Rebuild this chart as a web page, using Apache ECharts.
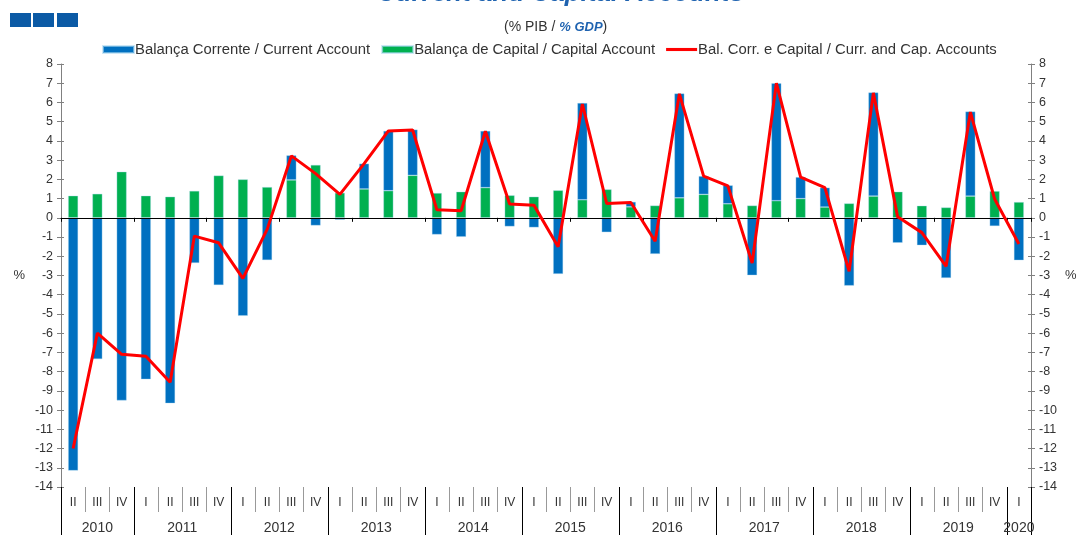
<!DOCTYPE html>
<html>
<head>
<meta charset="utf-8">
<script src="https://cdn.jsdelivr.net/npm/echarts@6/dist/echarts.min.js"></script>
<style>
html,body{margin:0;padding:0;background:#fff;overflow:hidden;}
#chart{width:1076px;height:535px;}
</style>
</head>
<body>
<div id="chart"></div>
<script>
// ---- Data ----
const categories = [
  '2010 II','2010 III','2010 IV',
  '2011 I','2011 II','2011 III','2011 IV',
  '2012 I','2012 II','2012 III','2012 IV',
  '2013 I','2013 II','2013 III','2013 IV',
  '2014 I','2014 II','2014 III','2014 IV',
  '2015 I','2015 II','2015 III','2015 IV',
  '2016 I','2016 II','2016 III','2016 IV',
  '2017 I','2017 II','2017 III','2017 IV',
  '2018 I','2018 II','2018 III','2018 IV',
  '2019 I','2019 II','2019 III','2019 IV',
  '2020 I'
];
const years = ['2010','2011','2012','2013','2014','2015','2016','2017','2018','2019','2020'];
const yTicks = {min: -14, max: 8, interval: 1};

const currentAccount = [
  -13.15, -7.35, -9.5,
  -8.4, -9.65, -2.35, -3.5,
  -5.1, -2.2, 1.28, -0.4,
  -0.1, 1.32, 3.11, 2.38,
  -0.87, -0.99, 2.95, -0.45,
  -0.5, -2.92, 5.03, -0.75,
  0.26, -1.88, 5.43, 0.95,
  0.96, -2.99, 6.11, 1.12,
  1.01, -3.53, 5.39, -1.3,
  -1.43, -3.13, 4.4, -0.43,
  -2.21
];
const capitalAccount = [
  1.15, 1.25, 2.4,
  1.15, 1.1, 1.4, 2.2,
  2.0, 1.6, 1.97, 2.75,
  1.3, 1.5, 1.41, 2.21,
  1.29, 1.36, 1.57, 1.17,
  1.1, 1.43, 0.94, 1.48,
  0.57, 0.64, 1.04, 1.22,
  0.73, 0.64, 0.89, 1.0,
  0.56, 0.75, 1.13, 1.36,
  0.63, 0.54, 1.13, 1.39,
  0.82
];
const combinedBalance = [
  -12.0, -6.0, -7.1,
  -7.2, -8.55, -0.95, -1.3,
  -3.15, -0.6, 3.22, 2.3,
  1.22, 2.82, 4.52, 4.57,
  0.42, 0.37, 4.5, 0.72,
  0.66, -1.5, 5.92, 0.75,
  0.8, -1.22, 6.45, 2.17,
  1.66, -2.35, 7.0, 2.12,
  1.57, -2.78, 6.5, 0.05,
  -0.77, -2.52, 5.5, 0.98,
  -1.36
];

const names = {
  cur: 'Balança Corrente / Current Account',
  cap: 'Balança de Capital / Capital Account',
  tot: 'Bal. Corr. e Capital / Curr. and Cap. Accounts'
};

// ---- Derived axis data ----
const quarterLabels = categories.map(c => c.split(' ')[1]);
const yearOf = categories.map(c => c.split(' ')[0]);
const N = categories.length;
const yearAxisData = new Array(2 * N + 1).fill('');
const yearBoundary = new Set([2 * N]);
years.forEach(y => {
  const start = yearOf.indexOf(y);
  const count = yearOf.filter(v => v === y).length;
  yearBoundary.add(2 * start);
  yearAxisData[2 * start + count] = y;
});

const FONT = 'Liberation Sans, Arial, sans-serif';
const TXT = '#333333';
const AXIS = '#808080';

const yAxisBase = (pos, gap) => ({
  type: 'value', position: pos, min: yTicks.min, max: yTicks.max, interval: yTicks.interval,
  name: '%', nameLocation: 'middle', nameGap: gap, nameRotate: 0,
  nameTextStyle: {fontSize: 13, color: TXT, fontFamily: FONT},
  axisLine: {show: true, lineStyle: {color: AXIS}},
  axisTick: {show: true, length: 4, lineStyle: {color: AXIS}},
  axisLabel: {fontSize: 12.5, color: TXT, margin: 8, fontFamily: FONT},
  splitLine: {show: false}
});
const yAxisInnerTicks = (pos) => ({
  type: 'value', position: pos, min: yTicks.min, max: yTicks.max, interval: yTicks.interval,
  axisLine: {show: false},
  axisTick: {show: true, inside: true, length: 3, lineStyle: {color: AXIS}},
  axisLabel: {show: false},
  splitLine: {show: false}
});

const chart = echarts.init(document.getElementById('chart'), null, {renderer: 'canvas'});
chart.setOption({
  backgroundColor: '#ffffff',
  animation: false,
  textStyle: {fontFamily: FONT},
  title: [
    {
      text: 'Current and Capital Accounts',
      left: 372, top: -24.5,
      textStyle: {fontSize: 26, fontStyle: 'italic', fontWeight: 'bold', color: '#1F63B0', fontFamily: FONT}
    },
    {
      text: '{a|(% PIB / }{b|% GDP}{a|)}',
      left: 499, top: 15,
      textStyle: {
        fontWeight: 'normal',
        rich: {
          a: {fontSize: 14, color: TXT, fontWeight: 'normal', fontFamily: FONT},
          b: {fontSize: 13, color: '#1F63B0', fontWeight: 'bold', fontStyle: 'italic', fontFamily: FONT}
        }
      }
    }
  ],
  graphic: [
    {type: 'rect', left: 10, top: 13, shape: {width: 21, height: 14}, style: {fill: '#0B5AA5'}},
    {type: 'rect', left: 33, top: 13, shape: {width: 21, height: 14}, style: {fill: '#0B5AA5'}},
    {type: 'rect', left: 57, top: 13, shape: {width: 21, height: 14}, style: {fill: '#0B5AA5'}}
  ],
  legend: {
    top: 37, left: 97,
    itemWidth: 31, itemHeight: 7, itemGap: 11,
    textStyle: {fontSize: 14.85, color: TXT, fontFamily: FONT, padding: [0, 0, 0, -4]},
    data: [
      {name: names.cur, icon: 'rect'},
      {name: names.cap, icon: 'rect'},
      {name: names.tot, icon: 'path://M0,0 L30,0 L30,3 L0,3 Z'}
    ]
  },
  grid: {left: 61, right: 45, top: 64, bottom: 48, containLabel: false, outerBoundsMode: 'none'},
  xAxis: [
    {
      type: 'category', data: categories, position: 'bottom',
      axisLine: {show: true, onZero: true, lineStyle: {color: '#000', width: 1}},
      axisTick: {show: true, length: 4, lineStyle: {color: '#000'}},
      axisLabel: {show: false},
      splitLine: {show: false}, z: 5
    },
    {
      type: 'category', data: quarterLabels, position: 'bottom',
      axisLine: {show: false, onZero: false},
      axisTick: {show: true, length: 25, interval: 0, lineStyle: {color: '#999'}},
      axisLabel: {show: true, interval: 0, margin: 10, fontSize: 12, color: TXT, fontFamily: FONT},
      splitLine: {show: false}
    },
    {
      type: 'category', data: yearAxisData, position: 'bottom', boundaryGap: false,
      axisLine: {show: false, onZero: false},
      axisTick: {show: true, length: 48, interval: (i) => yearBoundary.has(i), lineStyle: {color: '#000'}},
      axisLabel: {show: true, interval: (i, v) => v !== '', margin: 34, fontSize: 14, color: TXT, fontFamily: FONT},
      splitLine: {show: false}
    }
  ],
  yAxis: [
    yAxisBase('left', 36),
    yAxisBase('right', 34),
    yAxisInnerTicks('left'),
    yAxisInnerTicks('right')
  ],
  series: [
    {
      name: names.cap, type: 'bar', stack: 'bal', barWidth: 10,
      xAxisIndex: 0, yAxisIndex: 0,
      itemStyle: {color: '#00B050', borderColor: 'rgba(170,215,240,0.6)', borderWidth: 0.6},
      data: capitalAccount, z: 2
    },
    {
      name: names.cur, type: 'bar', stack: 'bal', barWidth: 10,
      xAxisIndex: 0, yAxisIndex: 0,
      itemStyle: {color: '#0070C0', borderColor: 'rgba(170,215,240,0.6)', borderWidth: 0.6},
      data: currentAccount, z: 2
    },
    {
      name: names.tot, type: 'line', symbol: 'none',
      xAxisIndex: 0, yAxisIndex: 0,
      lineStyle: {color: '#FF0000', width: 3},
      itemStyle: {color: '#FF0000'},
      data: combinedBalance, z: 6
    }
  ]
});
</script>
</body>
</html>
